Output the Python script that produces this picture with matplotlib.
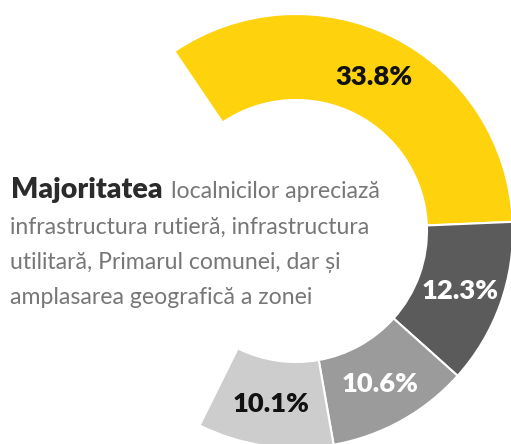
import numpy as np
import matplotlib.pyplot as plt

# valori (procente)
labels = ['33.8%', '12.3%', '10.6%', '10.1%']
values = [33.8, 12.3, 10.6, 10.1]
rest = 100 - sum(values)
colors = ['#fed30e', '#5b5b5b', '#9b9b9b', '#cdcdcd']
label_colors = ['#111111', 'white', 'white', '#111111']

lines = ['infrastructura rutieră, infrastructura',
         'utilitară, Primarul comunei, dar și',
         'amplasarea geografică a zonei']

fam = ['Lato', 'DejaVu Sans']

W, H = 511, 444
fig = plt.figure(figsize=(W / 100, H / 100), dpi=100)
ax = fig.add_axes([0, 0, 1, 1])
rend = fig.canvas.get_renderer()


def fit(t, width):
    # scale the font so the text is as wide as in the picture
    w = t.get_window_extent(rend).width
    t.set_fontsize(t.get_fontsize() * width / w)


cx, cy = 296, H - 231
R, ring = 217, 86

wedges, _ = ax.pie(values + [rest], radius=R, center=(cx, cy), startangle=124.1,
                   counterclock=False, colors=colors + ['white'],
                   wedgeprops=dict(width=ring, edgecolor='white', linewidth=1.5))
wedges[-1].set_edgecolor('none')

ax.set_xlim(0, W)
ax.set_ylim(0, H)
ax.set_aspect('equal')
ax.axis('off')

for w, lab, c in zip(wedges[:-1], labels, label_colors):
    ang = np.deg2rad((w.theta1 + w.theta2) / 2)
    r = R - ring / 2
    t = ax.text(cx + r * np.cos(ang), cy + r * np.sin(ang) - 1, lab, ha='center', va='center',
                fontsize=20, fontweight='heavy', color=c, family=fam)
    fit(t, 77)

# text din centru
t1 = ax.text(11, H - 198, 'Majoritatea', fontsize=20, fontweight='heavy',
             color='#2b2b2b', va='baseline', family=fam)
fit(t1, 152)
bb = t1.get_window_extent(rend)

body = []
for i, s in enumerate(lines):
    body.append(ax.text(10, H - 234 - i * 35, s, fontsize=18, color='#777777',
                        va='baseline', family=fam))
fit(body[0], 357)
fs = body[0].get_fontsize()
for t in body[1:]:
    t.set_fontsize(fs)
ax.text(bb.x1 + 8, H - 198, 'localnicilor apreciază', fontsize=fs, color='#777777',
        va='baseline', family=fam)

fig.savefig('out.png', dpi=100)
